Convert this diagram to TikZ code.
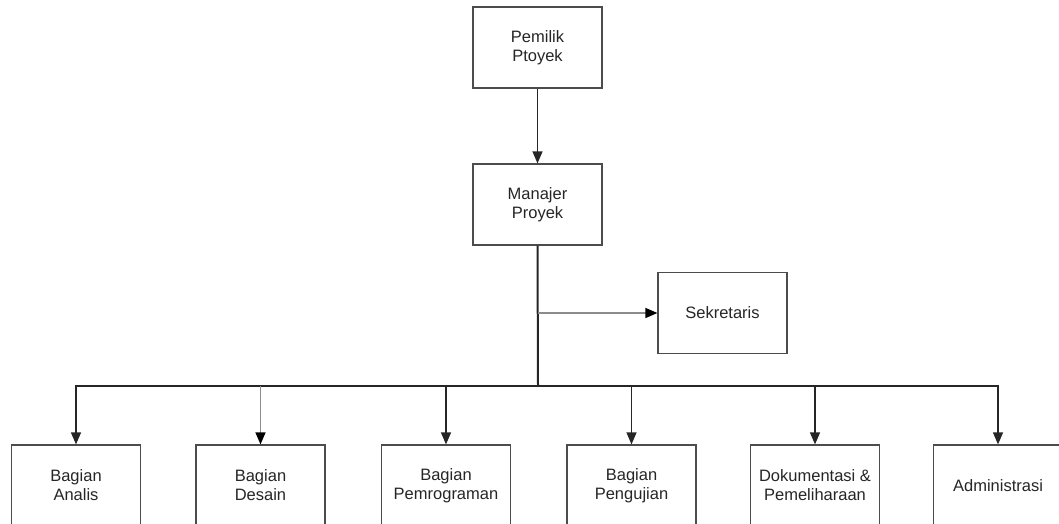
\documentclass[tikz,border=0pt]{standalone}
\usepackage{fontspec}
\setmainfont{Liberation Sans}
\usetikzlibrary{arrows.meta}
\begin{document}
\begin{tikzpicture}[x=1pt,y=-1pt,
  box/.style={draw=black!70,line width=1.2pt,fill=white,minimum width=129pt,minimum height=81pt,inner sep=0pt,align=center,font=\fontsize{16.5}{19}\selectfont,text=black!85},
  conn/.style={draw=black!85,line width=1.2pt,-{Triangle[length=12pt,width=10pt]}},
  gconn/.style={draw=black!45,line width=1.4pt,-{Triangle[length=12pt,width=10pt,fill=black,color=black]}},
  plain/.style={draw=black!85,line width=1.2pt}]
\useasboundingbox (0,0) rectangle (1059,524);
\clip (0,0) rectangle (1059,524);
\node[box] (own) at (537.5,47.5) {Pemilik\\Ptoyek};
\node[box] (man) at (537.5,204.5) {Manajer\\Proyek};
\node[box] (sek) at (722.5,313) {Sekretaris};
\node[box] (b1) at (76,485.5) {Bagian\\Analis};
\node[box] (b2) at (260.5,485.5) {Bagian\\Desain};
\node[box] (b3) at (446,485.5) {Bagian\\Pemrograman};
\node[box] (b4) at (631.5,485.5) {Bagian\\Pengujian};
\node[box] (b5) at (815,485.5) {Dokumentasi \&\\Pemeliharaan};
\node[box] (b6) at (998,485.5) {Administrasi};
\coordinate (bus) at (538,386);
\coordinate (sj) at (538,313);
\coordinate (k1) at (b1.north |- bus);
\coordinate (k2) at (b2.north |- bus);
\coordinate (k3) at (b3.north |- bus);
\coordinate (k4) at (b4.north |- bus);
\coordinate (k5) at (b5.north |- bus);
\coordinate (k6) at (b6.north |- bus);
\draw[conn] (own.south) -- (man.north);
\draw[plain,line width=2pt] (man.south) -- (bus);
\draw[gconn] (sj) -- (sek.west);
\draw[plain,line cap=rect] (k1) -- (k6);
\draw[conn] (k1) -- (b1.north);
\draw[gconn] (k2) -- (b2.north);
\draw[conn] (k3) -- (b3.north);
\draw[conn] (k4) -- (b4.north);
\draw[conn] (k5) -- (b5.north);
\draw[conn] (k6) -- (b6.north);
\end{tikzpicture}
\end{document}
